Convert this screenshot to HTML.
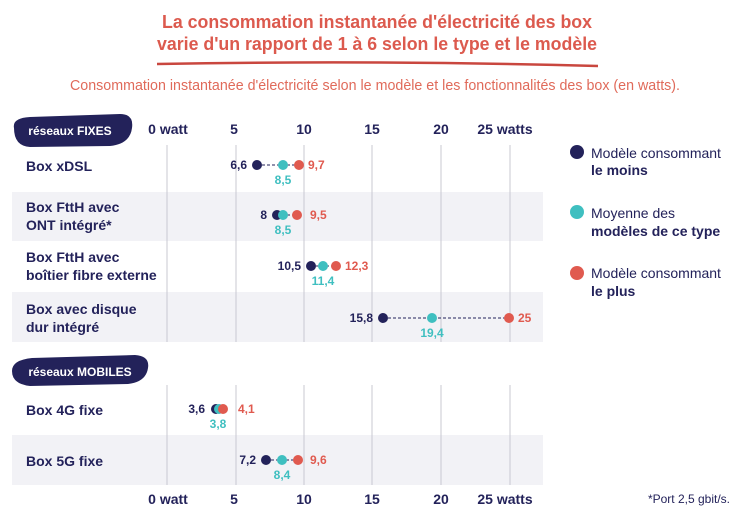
<!DOCTYPE html>
<html><head><meta charset="utf-8"><style>
html,body{margin:0;padding:0;background:#fff;}
svg{display:block;font-family:"Liberation Sans",sans-serif;}
.b{font-weight:bold;}
</style></head><body>
<svg width="746" height="529" viewBox="0 0 746 529" xmlns="http://www.w3.org/2000/svg">
<g fill="#dc5a4e" font-weight="bold" font-size="18" text-anchor="middle">
<text x="377" y="28" textLength="430" lengthAdjust="spacingAndGlyphs">La consommation instantanée d'électricité des box</text>
<text x="377" y="50" textLength="440" lengthAdjust="spacingAndGlyphs">varie d'un rapport de 1 à 6 selon le type et le modèle</text>
</g>
<path d="M157 64 Q377 60 598 66" stroke="#c9473f" stroke-width="2.5" fill="none"/>
<text x="375" y="90" text-anchor="middle" font-size="15" fill="#e06a5a" textLength="610" lengthAdjust="spacingAndGlyphs">Consommation instantanée d'électricité selon le modèle et les fonctionnalités des box (en watts).</text>
<rect x="12" y="192" width="531" height="49" fill="#f2f2f6"/>
<rect x="12" y="292" width="531" height="50" fill="#f2f2f6"/>
<rect x="12" y="435" width="531" height="50" fill="#f2f2f6"/>
<g stroke="#c8c8d2" stroke-width="1">
<line x1="167" y1="145" x2="167" y2="342"/><line x1="236" y1="145" x2="236" y2="342"/><line x1="304" y1="145" x2="304" y2="342"/><line x1="372" y1="145" x2="372" y2="342"/><line x1="441" y1="145" x2="441" y2="342"/><line x1="510" y1="145" x2="510" y2="342"/>
<line x1="167" y1="385" x2="167" y2="485"/><line x1="236" y1="385" x2="236" y2="485"/><line x1="304" y1="385" x2="304" y2="485"/><line x1="372" y1="385" x2="372" y2="485"/><line x1="441" y1="385" x2="441" y2="485"/><line x1="510" y1="385" x2="510" y2="485"/>
</g>
<g fill="#23225a" font-weight="bold" font-size="14" text-anchor="middle">
<text x="168" y="134">0 watt</text><text x="234" y="134">5</text><text x="304" y="134">10</text><text x="372" y="134">15</text><text x="441" y="134">20</text><text x="505" y="134">25 watts</text>
<text x="168" y="504">0 watt</text><text x="234" y="504">5</text><text x="304" y="504">10</text><text x="372" y="504">15</text><text x="441" y="504">20</text><text x="505" y="504">25 watts</text>
</g>
<path d="M14 128 Q12 118 30 117 L120 114 Q134 114 132 128 Q130 144 110 146 L30 147 Q14 146 14 128Z" fill="#23225a"/>
<text x="70" y="135" text-anchor="middle" fill="#fff" font-weight="bold" font-size="12">réseaux FIXES</text>
<path d="M12 371 Q12 360 32 358 L135 355 Q150 356 148 368 Q146 382 128 384 L30 386 Q12 384 12 371Z" fill="#23225a"/>
<text x="80" y="376" text-anchor="middle" fill="#fff" font-weight="bold" font-size="12">réseaux MOBILES</text>
<g fill="#23225a" font-size="14" font-weight="bold">
<text x="26" y="171">Box xDSL</text>
<text x="26" y="212">Box FttH avec</text><text x="26" y="230">ONT intégré*</text>
<text x="26" y="262">Box FttH avec</text><text x="26" y="280">boîtier fibre externe</text>
<text x="26" y="314">Box avec disque</text><text x="26" y="332">dur intégré</text>
<text x="26" y="415">Box 4G fixe</text>
<text x="26" y="466">Box 5G fixe</text>
</g>
<g stroke="#23225a" stroke-width="1" stroke-dasharray="3,2">
<line x1="257" y1="165" x2="300" y2="165"/>
<line x1="277" y1="215" x2="297" y2="215"/>
<line x1="311" y1="266" x2="336" y2="266"/>
<line x1="383" y1="318" x2="509" y2="318"/>
<line x1="266" y1="460" x2="298" y2="460"/>
</g>
<g font-size="12" font-weight="bold">
<circle cx="257" cy="165" r="5" fill="#23225a"/><circle cx="283" cy="165" r="5" fill="#3fbfc0"/><circle cx="299" cy="165" r="5" fill="#e05a4f"/>
<text x="247" y="169" text-anchor="end" fill="#23225a">6,6</text><text x="308" y="169" fill="#e05a4f">9,7</text><text x="283" y="184" text-anchor="middle" fill="#3fbfc0">8,5</text>
<circle cx="277" cy="215" r="5" fill="#23225a"/><circle cx="283" cy="215" r="5" fill="#3fbfc0"/><circle cx="297" cy="215" r="5" fill="#e05a4f"/>
<text x="267" y="219" text-anchor="end" fill="#23225a">8</text><text x="310" y="219" fill="#e05a4f">9,5</text><text x="283" y="234" text-anchor="middle" fill="#3fbfc0">8,5</text>
<circle cx="311" cy="266" r="5" fill="#23225a"/><circle cx="323" cy="266" r="5" fill="#3fbfc0"/><circle cx="336" cy="266" r="5" fill="#e05a4f"/>
<text x="301" y="270" text-anchor="end" fill="#23225a">10,5</text><text x="345" y="270" fill="#e05a4f">12,3</text><text x="323" y="285" text-anchor="middle" fill="#3fbfc0">11,4</text>
<circle cx="383" cy="318" r="5" fill="#23225a"/><circle cx="432" cy="318" r="5" fill="#3fbfc0"/><circle cx="509" cy="318" r="5" fill="#e05a4f"/>
<text x="373" y="322" text-anchor="end" fill="#23225a">15,8</text><text x="518" y="322" fill="#e05a4f">25</text><text x="432" y="337" text-anchor="middle" fill="#3fbfc0">19,4</text>
<circle cx="216" cy="409" r="5" fill="#23225a"/><circle cx="219" cy="409" r="5" fill="#3fbfc0"/><circle cx="223" cy="409" r="5" fill="#e05a4f"/>
<text x="205" y="413" text-anchor="end" fill="#23225a">3,6</text><text x="238" y="413" fill="#e05a4f">4,1</text><text x="218" y="428" text-anchor="middle" fill="#3fbfc0">3,8</text>
<circle cx="266" cy="460" r="5" fill="#23225a"/><circle cx="282" cy="460" r="5" fill="#3fbfc0"/><circle cx="298" cy="460" r="5" fill="#e05a4f"/>
<text x="256" y="464" text-anchor="end" fill="#23225a">7,2</text><text x="310" y="464" fill="#e05a4f">9,6</text><text x="282" y="479" text-anchor="middle" fill="#3fbfc0">8,4</text>
</g>
<circle cx="577" cy="152" r="7" fill="#23225a"/><circle cx="577" cy="212" r="7" fill="#3fbfc0"/><circle cx="577" cy="273" r="7" fill="#e05a4f"/>
<g fill="#23225a" font-size="14">
<text x="591" y="158">Modèle consommant</text><text x="591" y="175" class="b">le moins</text>
<text x="591" y="218">Moyenne des</text><text x="591" y="236" class="b">modèles de ce type</text>
<text x="591" y="278">Modèle consommant</text><text x="591" y="296" class="b">le plus</text>
</g>
<text x="730" y="503" text-anchor="end" font-size="12" fill="#23225a">*Port 2,5 gbit/s.</text>
</svg>
</body></html>
